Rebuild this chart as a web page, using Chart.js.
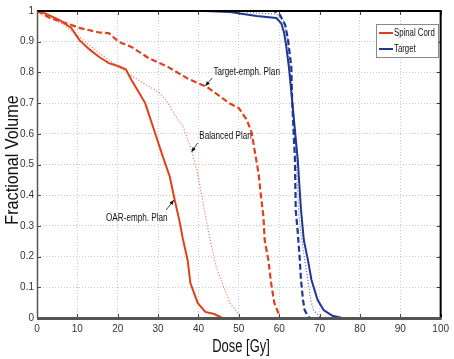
<!DOCTYPE html>
<html>
<head>
<meta charset="utf-8">
<script src="https://cdn.jsdelivr.net/npm/chart.js@4"></script>
<style>
  html, body { margin: 0; padding: 0; background: #fff; }
  #wrap { width: 454px; height: 359px; }
</style>
</head>
<body>
<div id="wrap"><canvas id="dvh"></canvas></div>
<script>
// dose-volume histograms
var doseOarCord = [0, 1.2, 5.6, 8.5, 10.5, 13, 15.4, 17.8, 20.2, 22, 23.4, 25, 26.8, 27.6, 29.3, 31.2, 32.9, 34.1, 35.4, 36.1, 37.3, 38, 39.8, 41.7, 43.9, 45.9];
var volOarCord  = [1, 0.997, 0.97, 0.945, 0.905, 0.875, 0.85, 0.83, 0.82, 0.81, 0.775, 0.74, 0.70, 0.668, 0.60, 0.525, 0.46, 0.385, 0.31, 0.26, 0.19, 0.114, 0.049, 0.02, 0.013, 0];

var doseBalCord = [0, 3, 6, 10, 15.4, 20.2, 25.1, 30, 32, 34.9, 36, 38.3, 39.8, 41, 42.2, 43.3, 44.3, 45.9, 47.8, 49.5, 50.7];
var volBalCord  = [1, 0.98, 0.96, 0.92, 0.863, 0.818, 0.775, 0.737, 0.71, 0.645, 0.63, 0.547, 0.47, 0.385, 0.30, 0.23, 0.17, 0.114, 0.049, 0.02, 0];

var doseTgtCord = [0, 3.2, 7.3, 10.5, 15.4, 17.8, 20.2, 23.4, 27.6, 32.4, 37.3, 42.2, 47.6, 50, 52, 53.2, 53.9, 54.9, 55.4, 56.1, 56.4, 57.3, 58, 58.8, 59.8, 60];
var volTgtCord  = [1, 0.977, 0.96, 0.945, 0.93, 0.928, 0.9, 0.883, 0.847, 0.818, 0.78, 0.752, 0.70, 0.684, 0.645, 0.603, 0.547, 0.47, 0.407, 0.33, 0.254, 0.19, 0.114, 0.049, 0.016, 0];

var doseOarTarget = [0, 41.5, 47.8, 54.4, 59.3, 60.5, 61.2, 61.7, 62.4, 63.2, 64.6, 65.4, 66.1, 67.1, 68, 69.5, 71, 73.2, 75.6];
var volOarTarget  = [1, 1, 0.997, 0.984, 0.977, 0.96, 0.93, 0.89, 0.818, 0.71, 0.515, 0.352, 0.254, 0.19, 0.124, 0.059, 0.026, 0.007, 0];

var doseBalTarget = [0, 50.2, 54.4, 59.3, 61, 62, 62.7, 63.2, 64.2, 64.9, 65.6, 66.3, 67.1, 67.8, 68.5, 69.8, 70.5];
var volBalTarget  = [1, 1, 0.993, 0.99, 0.97, 0.92, 0.818, 0.71, 0.515, 0.33, 0.254, 0.19, 0.124, 0.059, 0.026, 0.007, 0];

var doseTgtTarget = [0, 58.8, 60.2, 61.5, 62.2, 63, 63.2, 63.9, 64.1, 64.6, 65.1, 65.4, 65.9, 66.3, 67.1, 67.5];
var volTgtTarget  = [1, 1, 0.987, 0.954, 0.905, 0.818, 0.71, 0.515, 0.35, 0.28, 0.19, 0.124, 0.059, 0.026, 0.007, 0];

var xTicks = [0, 10, 20, 30, 40, 50, 60, 70, 80, 90, 100];
var yTicks = [0, 0.1, 0.2, 0.3, 0.4, 0.5, 0.6, 0.7, 0.8, 0.9, 1];

var legendNames = ['Spinal Cord', 'Target'];
var xTitle = 'Dose [Gy]';
var yTitle = 'Fractional Volume';

// text labels with arrows: [text, textDose, textVol, tailDose, tailVol, tipDose, tipVol]
var planNotes = [
  ['Target-emph. Plan', 43.7, 0.80, 43.4, 0.782, 41.7, 0.756],
  ['Balanced Plan', 40.2, 0.593, 39.8, 0.57, 38.3, 0.541],
  ['OAR-emph. Plan', 17.1, 0.326, 32.0, 0.352, 33.9, 0.384]
];

var RED = '#e0401a';
var RED_LIGHT = 'rgba(224,64,26,0.75)';
var BLUE = '#1f3694';
var BLUE_LIGHT = 'rgba(31,54,148,0.75)';
var FONT = "'Liberation Sans', Arial, sans-serif";

function pts(xs, ys) {
  return xs.map(function (x, i) { return { x: x, y: ys[i] }; });
}

function line(label, xs, ys, color, style) {
  var d = {
    label: label,
    data: pts(xs, ys),
    borderColor: color,
    backgroundColor: color,
    borderWidth: 2,
    pointRadius: 0,
    tension: 0,
    fill: false
  };
  if (style == 'dash') { d.borderDash = [6, 3]; d.borderWidth = 2.2; }
  if (style == 'dot') { d.borderDash = [1, 2]; d.borderWidth = 1.2; }
  return d;
}

// text squeezed horizontally (matlab's helvetica is narrow), optionally rotated
function narrowText(ctx, txt, x, y, size, squeeze, align, rot) {
  ctx.save();
  ctx.translate(x, y);
  if (rot) ctx.rotate(rot);
  ctx.scale(squeeze, 1);
  ctx.font = size + 'px ' + FONT;
  ctx.textAlign = align;
  ctx.textBaseline = 'middle';
  ctx.fillText(txt, 0, 0);
  ctx.restore();
}

var frame = {
  id: 'frame',
  afterDatasetsDraw: function (chart) {
    var ctx = chart.ctx, a = chart.chartArea;
    var xs = chart.scales.x, ys = chart.scales.y;
    ctx.save();
    // inward ticks
    ctx.strokeStyle = '#444';
    ctx.lineWidth = 1;
    xTicks.forEach(function (v) {
      var px = Math.round(xs.getPixelForValue(v)) + 0.5;
      ctx.beginPath();
      ctx.moveTo(px, a.bottom); ctx.lineTo(px, a.bottom - 4);
      ctx.moveTo(px, a.top); ctx.lineTo(px, a.top + 4);
      ctx.stroke();
    });
    yTicks.forEach(function (v) {
      var py = Math.round(ys.getPixelForValue(v)) + 0.5;
      ctx.beginPath();
      ctx.moveTo(a.left, py); ctx.lineTo(a.left + 4, py);
      ctx.moveTo(a.right, py); ctx.lineTo(a.right - 4, py);
      ctx.stroke();
    });
    // box
    ctx.strokeStyle = '#000';
    ctx.lineWidth = 2;
    ctx.beginPath();
    ctx.moveTo(a.left, a.top); ctx.lineTo(a.right, a.top); ctx.lineTo(a.right, a.bottom);
    ctx.stroke();
    ctx.strokeStyle = '#555';
    ctx.lineWidth = 1.5;
    ctx.beginPath();
    ctx.moveTo(a.left + 0.5, a.top); ctx.lineTo(a.left + 0.5, a.bottom);
    ctx.stroke();
    ctx.lineWidth = 3;
    ctx.beginPath();
    ctx.moveTo(a.left, a.bottom + 0.5); ctx.lineTo(a.right + 1, a.bottom + 0.5);
    ctx.stroke();

    // axis titles
    ctx.fillStyle = '#111';
    narrowText(ctx, xTitle, 241, 347, 18, 0.72, 'center', 0);
    narrowText(ctx, yTitle, 13, 160, 19, 0.85, 'center', -Math.PI / 2);

    // notes with arrows
    planNotes.forEach(function (n) {
      ctx.fillStyle = '#111';
      narrowText(ctx, n[0], xs.getPixelForValue(n[1]), ys.getPixelForValue(n[2]), 11, 0.74, 'left', 0);
      var x1 = xs.getPixelForValue(n[3]), y1 = ys.getPixelForValue(n[4]);
      var x2 = xs.getPixelForValue(n[5]), y2 = ys.getPixelForValue(n[6]);
      ctx.strokeStyle = '#111';
      ctx.lineWidth = 0.8;
      ctx.beginPath(); ctx.moveTo(x1, y1); ctx.lineTo(x2, y2); ctx.stroke();
      var ang = Math.atan2(y2 - y1, x2 - x1);
      ctx.beginPath();
      ctx.moveTo(x2, y2);
      ctx.lineTo(x2 - 5 * Math.cos(ang - 0.4), y2 - 5 * Math.sin(ang - 0.4));
      ctx.lineTo(x2 - 5 * Math.cos(ang + 0.4), y2 - 5 * Math.sin(ang + 0.4));
      ctx.closePath();
      ctx.fill();
    });

    // legend box
    var lx = 376, ly = 24, lw = 62, lh = 33;
    ctx.fillStyle = '#fff';
    ctx.fillRect(lx, ly, lw, lh);
    ctx.strokeStyle = '#888';
    ctx.lineWidth = 1;
    ctx.strokeRect(lx + 0.5, ly + 0.5, lw, lh);
    var cols = [RED, BLUE];
    legendNames.forEach(function (name, i) {
      var yy = ly + 9 + i * 16;
      ctx.strokeStyle = cols[i];
      ctx.lineWidth = 2;
      ctx.beginPath(); ctx.moveTo(lx + 3, yy); ctx.lineTo(lx + 17, yy); ctx.stroke();
      ctx.fillStyle = '#111';
      narrowText(ctx, name, lx + 18, yy, 10, 0.78, 'left', 0);
    });
    ctx.restore();
  }
};

new Chart(document.getElementById('dvh'), {
  type: 'line',
  data: {
    datasets: [
      line('OAR-emph. Plan cord', doseOarCord, volOarCord, RED, 'solid'),
      line('Balanced Plan cord', doseBalCord, volBalCord, RED_LIGHT, 'dot'),
      line('Target-emph. Plan cord', doseTgtCord, volTgtCord, RED, 'dash'),
      line('OAR-emph. Plan target', doseOarTarget, volOarTarget, BLUE, 'solid'),
      line('Balanced Plan target', doseBalTarget, volBalTarget, BLUE_LIGHT, 'dot'),
      line('Target-emph. Plan target', doseTgtTarget, volTgtTarget, BLUE, 'dash')
    ]
  },
  options: {
    responsive: true,
    maintainAspectRatio: false,
    animation: false,
    layout: { padding: { top: 11, right: 7, left: 0, bottom: 0 } },
    plugins: { legend: { display: false }, tooltip: { enabled: false } },
    scales: {
      x: {
        type: 'linear',
        min: 0, max: 100,
        afterFit: function (s) { s.height = 41; },
        afterBuildTicks: function (s) { s.ticks = xTicks.map(function (v) { return { value: v }; }); },
        ticks: { color: '#333', padding: 5, maxRotation: 0, font: { family: FONT, size: 10 } },
        grid: { color: '#c8c8c8', drawTicks: false, tickLength: 0 },
        border: { display: false, dash: [1, 2] },
        title: { display: false }
      },
      y: {
        min: 0, max: 1,
        afterFit: function (s) { s.width = 37; },
        afterBuildTicks: function (s) { s.ticks = yTicks.map(function (v) { return { value: v }; }); },
        ticks: { color: '#333', padding: 3, font: { family: FONT, size: 10 },
                 callback: function (v) { return String(Math.round(v * 10) / 10); } },
        grid: { color: '#c8c8c8', drawTicks: false, tickLength: 0 },
        border: { display: false, dash: [1, 2] },
        title: { display: false }
      }
    }
  },
  plugins: [frame]
});
</script>
</body>
</html>
